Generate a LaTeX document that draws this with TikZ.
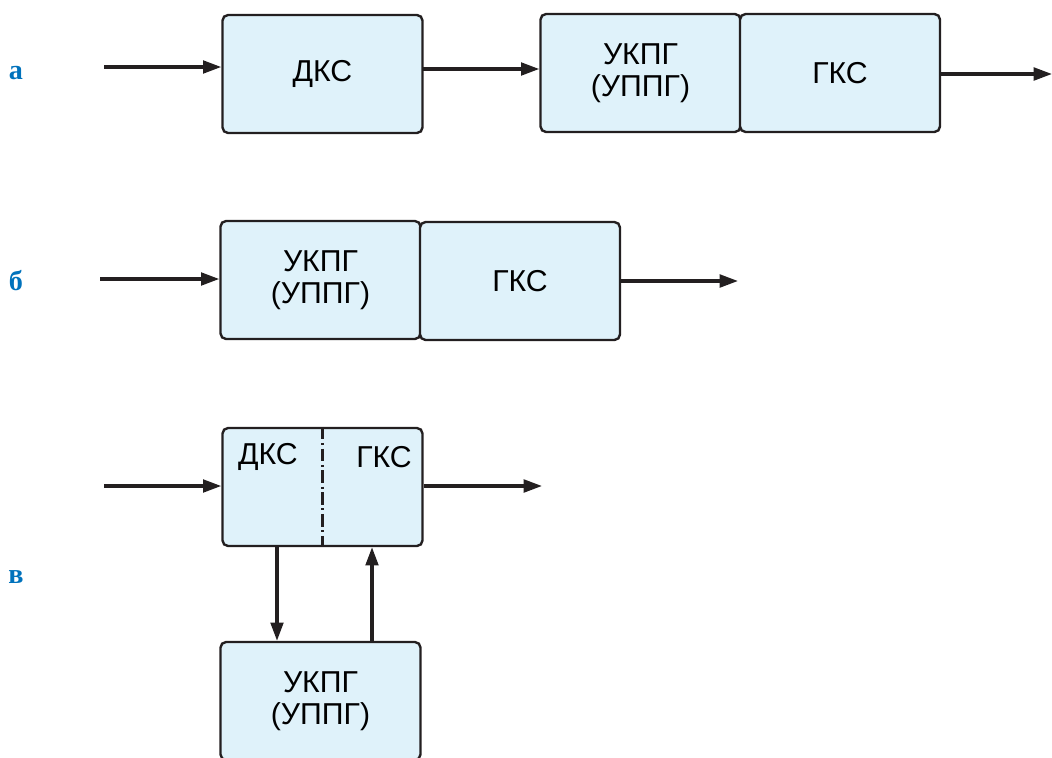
\documentclass[tikz,border=0pt]{standalone}
\usepackage{fontspec}
\setmainfont{Liberation Sans}
\newfontfamily\lblfont{Liberation Serif}
\definecolor{boxfill}{RGB}{223, 242, 250}
\definecolor{lblblue}{RGB}{0, 114, 188}
\definecolor{lineblk}{RGB}{35, 31, 32}
\usepackage{tikz}
\usetikzlibrary{arrows.meta, positioning}

\begin{document}
\begin{tikzpicture}[
  x=0.025cm, y=-0.025cm,
  sbox/.style={draw=lineblk, fill=boxfill, line width=1.7pt, rounded corners=4pt, minimum width=5cm, minimum height=2.95cm, align=center, inner sep=0pt, font=\fontsize{21.5}{23}\selectfont},
  btext/.style={inner sep=0pt, font=\fontsize{21.5}{23}\selectfont},
  lbl/.style={text=lblblue, font=\lblfont\bfseries\fontsize{20}{24}\selectfont},
  arr/.style={draw=lineblk, line width=2.2pt, -{Triangle[length=13pt, width=9pt]}}
]
  \useasboundingbox (0,0) rectangle (1052,757);
  \clip (0,0) rectangle (1052,757);

  % a
  \node[lbl] (la) at (16,73) {а};
  \node[sbox] (dksA) at (322.5,74) {ДКС};
  \node[sbox] (ukpgA) at (640.5,73) {УКПГ\\(УППГ)};
  \node[sbox] (gksA) at (840,73) {ГКС};
  \coordinate (inA) at (104,67);
  \coordinate (midA) at (423,69);
  \coordinate (outA) at (1052,74);
  \draw[arr] (inA) -- (inA -| dksA.west);
  \draw[arr] (midA) -- (midA -| ukpgA.west);
  \draw[arr] (outA -| gksA.east) -- (outA);

  % b
  \node[lbl] (lb) at (16,281) {б};
  \node[sbox] (ukpgB) at (320.5,280) {УКПГ\\(УППГ)};
  \node[sbox] (gksB) at (520,281) {ГКС};
  \coordinate (inB) at (100,279);
  \coordinate (outB) at (738,281);
  \draw[arr] (inB) -- (inB -| ukpgB.west);
  \draw[arr] (outB -| gksB.east) -- (outB);

  % v
  \node[lbl] (lv) at (16,577) {в};
  \node[sbox] (boxV) at (322.5,487) {};
  \node[btext] (dksV) at (268,457) {ДКС};
  \node[btext] (gksV) at (384,457) {ГКС};
  \draw[lineblk, line width=1.8pt, dash pattern=on 9pt off 2.5pt on 1.5pt off 2.5pt] (boxV.north) -- (boxV.south);
  \node[sbox] (ukpgV) at (320.5,701) {УКПГ\\(УППГ)};
  \coordinate (inV) at (104,486);
  \coordinate (outV) at (542,486);
  \coordinate (dn) at (277,600);
  \coordinate (up) at (372,600);
  \draw[arr] (inV) -- (inV -| boxV.west);
  \draw[arr] (outV -| boxV.east) -- (outV);
  \draw[arr] (dn |- boxV.south) -- (dn |- ukpgV.north);
  \draw[arr] (up |- ukpgV.north) -- (up |- boxV.south);
\end{tikzpicture}
\end{document}
